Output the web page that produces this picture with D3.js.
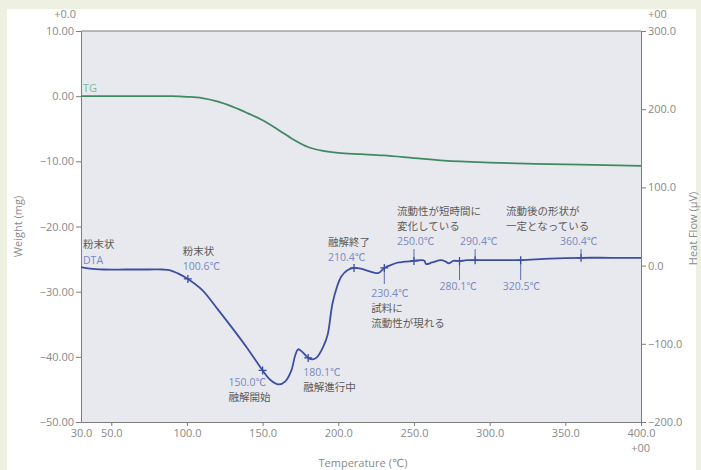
<!DOCTYPE html>
<html>
<head>
<meta charset="utf-8">
<script src="https://cdn.jsdelivr.net/npm/d3@7"></script>
<style>
  html, body { margin: 0; padding: 0; background: #eef0e2; }
  svg { display: block; }
  .tick text { font-family: "Open Sans", "DejaVu Sans", sans-serif; font-size: 11px; fill: #8a8a8a; }
  .tick line { stroke: #7d7d7d; }
  .domain { stroke: #7d7d7d; }
  .jp { font-family: "Noto Sans CJK JP", sans-serif; font-size: 10.5px; fill: #5a5a5a; }
  .val { font-family: "Open Sans", "Noto Sans CJK JP", sans-serif; font-size: 10.5px; fill: #7788c4; }
</style>
</head>
<body>
<script>
// Temperature axis ticks and value ticks for both vertical axes
const tempTicks = [30, 50, 100, 150, 200, 250, 300, 350, 400];
const weightTicks = [10, 0, -10, -20, -30, -40, -50];
const heatTicks = [300, 200, 100, 0, -100, -200];

// TG curve: weight (mg) vs temperature (°C)
const tgTemp   = [30, 60, 90, 100, 110, 120, 130, 140, 150, 160, 170, 180, 190, 200, 215, 230, 250, 270, 300, 330, 360, 400];
const tgWeight = [0, 0, 0, -0.1, -0.3, -0.8, -1.6, -2.6, -3.7, -5.1, -6.6, -7.8, -8.4, -8.7, -8.9, -9.1, -9.5, -9.9, -10.2, -10.4, -10.5, -10.7];

// DTA curve: heat flow (µV) vs temperature (°C)
const dtaTemp = [30, 36, 45, 60, 75, 84, 89, 94, 100.6, 110, 120, 130, 140, 150, 155, 160.5, 165, 169, 171.5, 173.5, 176, 180.1, 183, 186, 190, 193, 196, 199, 202, 206, 210.4, 215, 220, 226.5, 230.4, 235, 240, 250, 255, 257, 258, 262, 268, 271, 273, 276, 280.1, 285, 290.4, 300, 310, 320.5, 340, 360.4, 380, 400];
const dtaFlow = [-2, -4, -5, -5, -5, -5, -6, -10, -17, -31, -55, -80, -106, -134, -146, -152, -148, -134, -115, -107, -110, -118, -120, -117, -104, -88, -50, -28, -14, -6, -3, -4, -7, -9.5, -3, 1, 4, 6, 7, 6, 2, 4, 7, 5, 3, 6, 6, 7, 7, 7, 7, 7, 9, 10, 10, 10];

// Marked temperatures on the DTA curve and their notes
const markTemps  = [100.6, 150.0, 180.1, 210.4, 230.4, 250.0, 280.1, 290.4, 320.5, 360.4];
const markLabels = ["100.6℃", "150.0℃", "180.1℃", "210.4℃", "230.4℃", "250.0℃", "280.1℃", "290.4℃", "320.5℃", "360.4℃"];
const markNotes  = [["粉末状"], ["融解開始"], ["融解進行中"], ["融解終了"], ["試料に", "流動性が現れる"], ["流動性が短時間に", "変化している"], [], [], [], ["流動後の形状が", "一定となっている"]];

const W = 701, H = 470;
const m = { left: 81, right: 641, top: 31, bottom: 422 };

const svg = d3.select("body").append("svg").attr("width", W).attr("height", H);

// white card and plot area
svg.append("rect").attr("x", 7).attr("y", 9).attr("width", 689).attr("height", H - 9).attr("fill", "#ffffff");
svg.append("rect").attr("x", m.left).attr("y", m.top)
  .attr("width", m.right - m.left).attr("height", m.bottom - m.top).attr("fill", "#e8e9ee");

const x = d3.scaleLinear().domain([30, 400]).range([m.left, m.right]);
const yW = d3.scaleLinear().domain([-50, 10]).range([m.bottom, m.top]);
const yH = d3.scaleLinear().domain([-200, 300]).range([m.bottom, m.top]);

// axes
svg.append("g").attr("transform", `translate(${m.left},0)`)
  .call(d3.axisLeft(yW).tickValues(weightTicks).tickFormat(d3.format(".2f")).tickSize(5).tickPadding(2).tickSizeOuter(0));
svg.append("g").attr("transform", `translate(${m.right},0)`)
  .call(d3.axisRight(yH).tickValues(heatTicks).tickFormat(d3.format(".1f")).tickSize(5).tickPadding(2).tickSizeOuter(0));
const gB = svg.append("g").attr("transform", `translate(0,${m.bottom})`)
  .call(d3.axisBottom(x).tickValues(tempTicks).tickFormat(d3.format(".1f")).tickSize(4).tickPadding(3).tickSizeOuter(0));
gB.selectAll(".tick").filter(d => d === 30).select("line").remove();
// top border of the plot
svg.append("line").attr("x1", m.left).attr("x2", m.right).attr("y1", m.top).attr("y2", m.top)
  .attr("stroke", "#7d7d7d");

const tickFont = `"Open Sans", "DejaVu Sans", sans-serif`;
function smallText(tx, ty, s, anchor) {
  svg.append("text").attr("x", tx).attr("y", ty).attr("text-anchor", anchor || "start")
    .attr("font-family", tickFont).attr("font-size", 11).attr("fill", "#8a8a8a").text(s);
}
smallText(m.left - 5, 18, "+0.0", "end");
smallText(m.right + 7, 18, "+00", "start");
smallText(m.right + 9, 452, "+00", "end");

// axis titles
svg.append("text").attr("transform", `translate(22,${(m.top + m.bottom) / 2}) rotate(-90)`)
  .attr("text-anchor", "middle").attr("font-family", tickFont).attr("font-size", 11).attr("fill", "#8a8a8a")
  .text("Weight (mg)");
svg.append("text").attr("transform", `translate(697,${(m.top + m.bottom) / 2 + 2}) rotate(-90)`)
  .attr("text-anchor", "middle").attr("font-family", tickFont).attr("font-size", 11).attr("fill", "#8a8a8a")
  .text("Heat Flow (µV)");
svg.append("text").attr("x", (m.left + m.right) / 2 + 2).attr("y", 467)
  .attr("text-anchor", "middle").attr("font-family", tickFont).attr("font-size", 11).attr("fill", "#8a8a8a")
  .text("Temperature (℃)");

// curves
const tgLine = d3.line().x((d, i) => x(tgTemp[i])).y((d, i) => yW(tgWeight[i])).curve(d3.curveCatmullRom);
svg.append("path").attr("d", tgLine(tgTemp)).attr("fill", "none").attr("stroke", "#3f8a62").attr("stroke-width", 1.8);

const dtaLine = d3.line().x((d, i) => x(dtaTemp[i])).y((d, i) => yH(dtaFlow[i])).curve(d3.curveCatmullRom);
svg.append("path").attr("d", dtaLine(dtaTemp)).attr("fill", "none").attr("stroke", "#3c4ea2").attr("stroke-width", 1.8);

// curve labels
svg.append("text").attr("x", 83).attr("y", 92).attr("font-family", tickFont).attr("font-size", 11)
  .attr("fill", "#7fb895").text("TG");
svg.append("text").attr("class", "jp").attr("x", 83).attr("y", 248).text("粉末状");
svg.append("text").attr("class", "val").attr("x", 83).attr("y", 264).text("DTA");

// DTA value at a temperature (interpolated along the drawn data)
const flowAt = t => {
  const i = d3.bisectLeft(dtaTemp, t);
  if (dtaTemp[i] === t) return dtaFlow[i];
  const t0 = dtaTemp[i - 1], t1 = dtaTemp[i];
  return dtaFlow[i - 1] + (dtaFlow[i] - dtaFlow[i - 1]) * (t - t0) / (t1 - t0);
};

// label placement for each mark: value offset, notes offset, first line y, leader end y
const place = [
  { dx: -5, y: 270, notesAbove: true },
  { dx: -34, y: 386, notesAbove: false },
  { dx: -5, y: 376, notesAbove: false },
  { dx: -26, y: 261, notesAbove: true },
  { dx: -13, y: 297, notesAbove: false, lead: 284 },
  { dx: -17, y: 245, notesAbove: true, lead: 249 },
  { dx: -20, y: 290, notesAbove: false, lead: 280 },
  { dx: -15, y: 245, notesAbove: true, lead: 249 },
  { dx: -18, y: 290, notesAbove: false, lead: 280 },
  { dx: -21, ndx: -75, y: 245, notesAbove: true, lead: 249 }
];

markTemps.forEach((t, i) => {
  const px = x(t), py = yH(flowAt(t));
  const p = place[i];
  if (p.lead !== undefined) {
    svg.append("line").attr("x1", px).attr("x2", px).attr("y1", py).attr("y2", p.lead)
      .attr("stroke", "#5d6db0").attr("stroke-width", 1);
  }
  // cross marker
  svg.append("path").attr("d", `M${px - 4},${py}H${px + 4}M${px},${py - 4}V${py + 4}`)
    .attr("stroke", "#3c4ea2").attr("stroke-width", 1.3);
  const tx = px + p.dx;
  const nx = px + (p.ndx !== undefined ? p.ndx : p.dx);
  svg.append("text").attr("class", "val").attr("x", tx).attr("y", p.y).text(markLabels[i]);
  const notes = markNotes[i];
  notes.forEach((n, k) => {
    const ny = p.notesAbove ? p.y - 15 * (notes.length - k) : p.y + 15 * (k + 1);
    svg.append("text").attr("class", "jp").attr("x", nx).attr("y", ny).text(n);
  });
});
</script>
</body>
</html>
